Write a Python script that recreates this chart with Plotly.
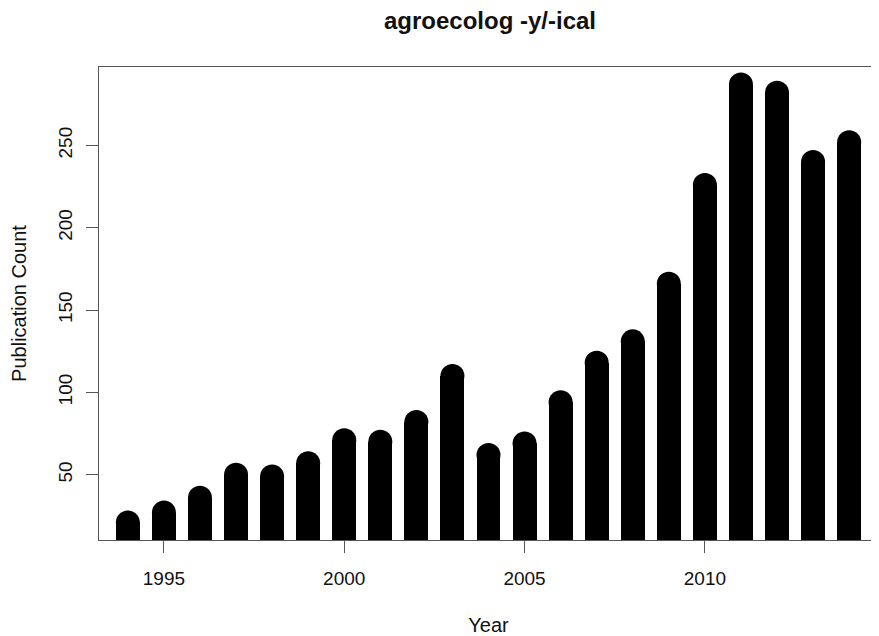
import plotly.graph_objects as go

years = [1994, 1995, 1996, 1997, 1998, 1999, 2000, 2001, 2002, 2003, 2004,
         2005, 2006, 2007, 2008, 2009, 2010, 2011, 2012, 2013, 2014]
counts = [21, 27, 36, 50, 49, 57, 71, 70, 82, 110, 62,
          69, 94, 118, 131, 166, 226, 287, 282, 240, 252]
x_ticks = [1995, 2000, 2005, 2010]
y_ticks = [50, 100, 150, 200, 250]

title_text = "agroecolog -y/-ical"
x_title = "Year"
y_title = "Publication Count"

FONT = "Liberation Sans, Arial, Helvetica, sans-serif"
BAR_W = 0.664
CAP_PX = 24
W, H = 871, 628  # page body has an 8px default margin

# R-style 4% axis extension
xmin, xmax = min(years), max(years)
ymin, ymax = min(counts), max(counts)
xpad = (xmax - xmin) * 0.04
ypad = (ymax - ymin) * 0.04

fig = go.Figure()
fig.add_trace(go.Bar(x=years, y=counts, width=BAR_W, marker=dict(color="black", line=dict(width=0)),
                     hoverinfo="x+y"))
fig.add_trace(go.Scatter(x=years, y=counts, mode="markers",
                         marker=dict(symbol="circle", size=CAP_PX, color="black", line=dict(width=0)),
                         hoverinfo="skip"))

fig.update_layout(
    width=W, height=H, autosize=False,
    margin=dict(l=91, r=1, t=59, b=96),
    paper_bgcolor="white", plot_bgcolor="white",
    showlegend=False,
    font=dict(family=FONT, size=19, color="#111"),
    title=dict(text="<b>" + title_text + "</b>", x=482 / W, xanchor="center",
               y=1 - 13 / H, yanchor="middle", yref="container",
               font=dict(family=FONT, size=24, color="#111")),
    bargap=0,
)
fig.update_xaxes(
    range=[xmin - xpad, xmax + xpad], tickvals=x_ticks, ticks="outside", ticklen=12,
    tickcolor="#555", tickwidth=1, showline=True, mirror=True, linecolor="#555", linewidth=1,
    showgrid=False, zeroline=False, ticklabelstandoff=9, automargin=False,
    title=dict(text=x_title, standoff=33, font=dict(size=20)),
)
fig.update_yaxes(
    range=[ymin - ypad, ymax + ypad], tickvals=y_ticks, ticks="outside", ticklen=12,
    tickcolor="#555", tickwidth=1, showline=True, mirror=True, linecolor="#555", linewidth=1,
    showgrid=False, zeroline=False, tickangle=-90, ticklabelstandoff=6, automargin=False,
    title=dict(text=y_title, standoff=26, font=dict(size=20)),
)

fig.write_html("out.html")
